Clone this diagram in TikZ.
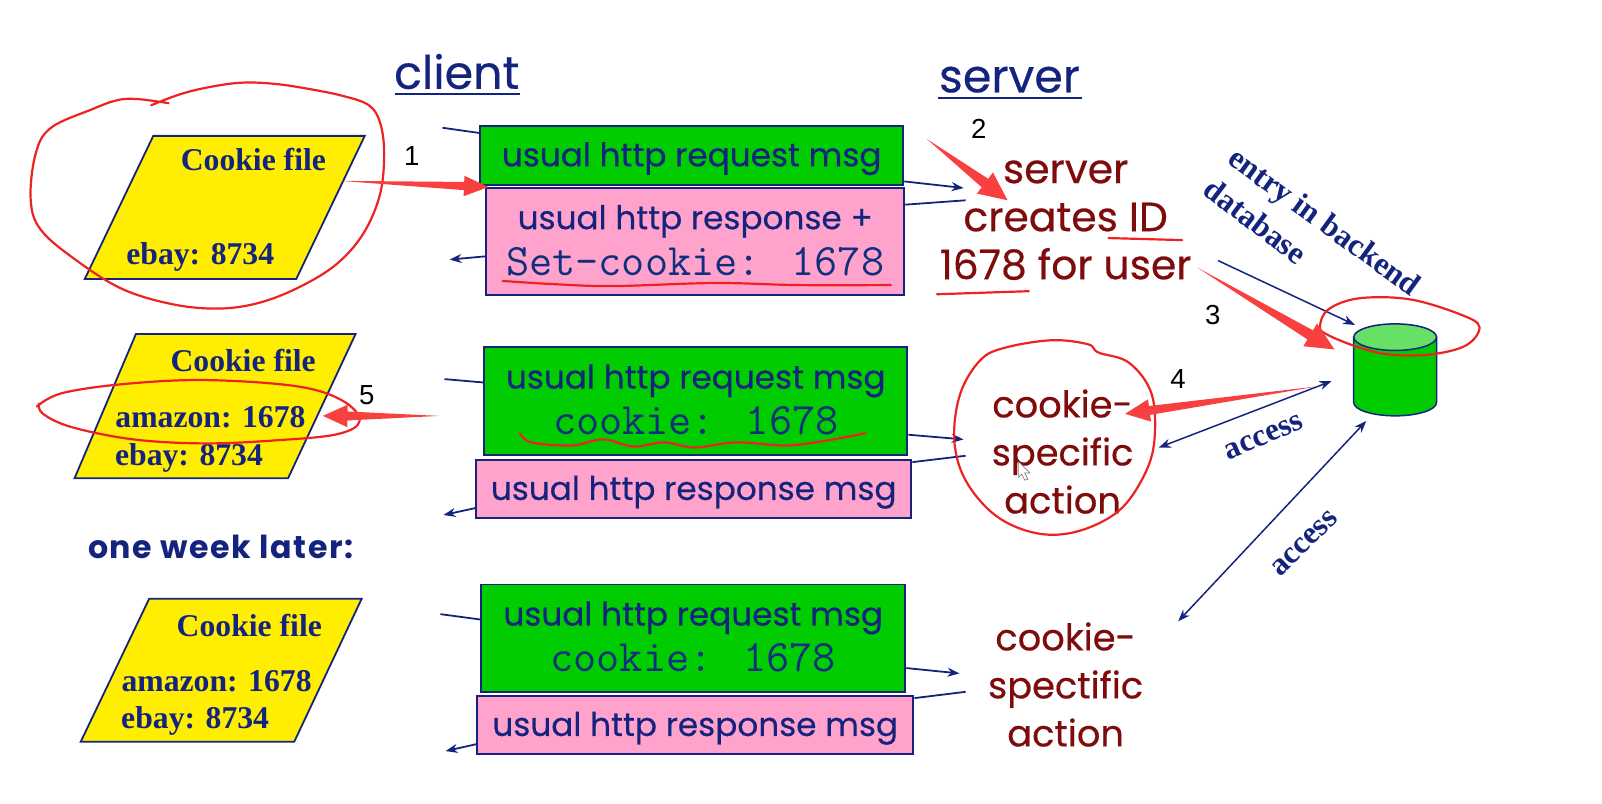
\documentclass[tikz,border=0pt]{standalone}
\usepackage{fontspec}
\setmainfont{Liberation Serif}
\newfontfamily\handfont[FakeBold=0.4]{Poppins}
\newfontfamily\laterfont[LetterSpace=5]{Poppins}
\newfontfamily\numfont{Liberation Sans}
\usetikzlibrary{positioning,calc,shapes.geometric,arrows.meta}
\definecolor{navy}{HTML}{14247E}
\definecolor{monoblue}{HTML}{10307E}
\definecolor{boxgreen}{HTML}{00CC00}
\definecolor{lidgreen}{HTML}{66E066}
\definecolor{boxpink}{HTML}{FFA3CC}
\definecolor{fileyellow}{HTML}{FFEE00}
\definecolor{darkred}{HTML}{7F0C0C}
\definecolor{markred}{HTML}{EE2222}
\definecolor{arrowred}{HTML}{F94040}
\newcommand{\monotext}[1]{{\ttfamily\color{monoblue}\fontsize{44}{43}\selectfont #1}}
\tikzset{
    msgbox/.style={draw=navy, line width=1.8pt, inner sep=0pt, align=center, text=navy,
        font=\handfont\fontsize{32}{43}\selectfont},
    greenbox/.style={msgbox, fill=boxgreen},
    pinkbox/.style={msgbox, fill=boxpink},
    oneline/.style={text depth=2pt},
    twoline/.style={text depth=3pt},
    filetext/.style={text=navy, inner sep=0pt, font=\bfseries\fontsize{31}{32}\selectfont},
    cookiefile/.style={draw=navy, line width=1.8pt, fill=fileyellow},
    servertext/.style={text=darkred, inner sep=0pt, align=center,
        font=\handfont\fontsize{40}{47}\selectfont},
    actiontext/.style={servertext, font=\handfont\fontsize{36}{47}\selectfont},
    title/.style={text=navy, inner sep=2pt, font=\handfont\fontsize{45}{48}\selectfont},
    dbtext/.style={text=navy, inner sep=0pt, font=\bfseries\fontsize{31}{34}\selectfont},
    numtext/.style={text=black, inner sep=0pt, font=\numfont\fontsize{27}{30}\selectfont},
    wire/.style={navy, line width=1.8pt},
    wirearrow/.style={wire, -{Stealth[length=12pt,width=9pt]}},
    dbarrow/.style={navy, line width=1.5pt, -{Stealth[length=12pt,width=9pt]}},
    dbboth/.style={navy, line width=1.5pt, {Stealth[length=12pt,width=9pt]}-{Stealth[length=12pt,width=9pt]}},
    redline/.style={markred, line width=2.2pt, line cap=round, line join=round},
}
\newcommand{\redarrow}[4]{
    \coordinate (hb) at ($(#2)!#3!(#1)$);
    \fill[arrowred] (#1) -- ($(hb)!0.4*#4!90:(#2)$) -- ($(hb)!#4!90:(#2)$) -- (#2)
        -- ($(hb)!#4!-90:(#2)$) -- ($(hb)!0.4*#4!-90:(#2)$) -- cycle;
}
\begin{document}
\begin{tikzpicture}[x=1pt,y=-1pt,scale=1.0217,transform shape]
    \useasboundingbox (0,0) rectangle (1568,786.9);

    \filldraw[cookiefile] (150,133) -- (357,133) -- (290,273) -- (83,273) -- cycle;
    \filldraw[cookiefile] (133,327) -- (348,327) -- (282,468) -- (73,468) -- cycle;
    \filldraw[cookiefile] (146,586) -- (354,586) -- (288,726) -- (79,726) -- cycle;
    \node[filetext] at (248,156)(cookiea) {Cookie file};
    \node[filetext] at (196,251)(ebaya) {ebay: 8734};
    \node[filetext] at (238,353)(cookieb) {Cookie file};
    \node[filetext] at (206,408)(amazonb) {amazon: 1678};
    \node[filetext] at (185,448)(ebayb) {ebay: 8734};
    \node[filetext] at (244,612)(cookiec) {Cookie file};
    \node[filetext] at (212,667)(amazonc) {amazon: 1678};
    \node[filetext] at (191,706)(ebayc) {ebay: 8734};
    \node[text=navy, inner sep=0pt, font=\laterfont\bfseries\fontsize{31}{36}\selectfont] at (216,535)(later) {one week later:};

    \node[title] at (447,70)(client) {client};
    \node[title] at (988,78)(server) {server};
    \draw[wire] (387,92) coordinate (ca) -- (509,92) coordinate (cb);
    \draw[wire] (918,96) coordinate (sa) -- (1059,96) coordinate (sb);

    \node[greenbox, oneline, minimum width=414, minimum height=58] at (677,152)(reqa) {usual http request msg};
    \node[pinkbox, twoline, minimum width=409, minimum height=105] at (680.5,236.5)(respa) {usual http response +\\[2pt]\monotext{Set-cookie: 1678}};
    \node[greenbox, twoline, minimum width=414, minimum height=105] at (681,392.5)(reqb) {usual http request msg\\[2pt]\monotext{cookie: 1678}};
    \node[pinkbox, oneline, minimum width=426, minimum height=57] at (679,478.5)(respb) {usual http response msg};
    \node[greenbox, twoline, minimum width=415, minimum height=105] at (678.5,624.5)(reqc) {usual http request msg\\[2pt]\monotext{cookie: 1678}};
    \node[pinkbox, oneline, minimum width=427, minimum height=57] at (680.5,709.5)(respc) {usual http response msg};

    \coordinate (ina) at (433,125);
    \coordinate (outa) at (943,184);
    \coordinate (backa) at (945,196);
    \coordinate (enda) at (440,254);
    \coordinate (inb) at (435,371);
    \coordinate (outb) at (943,430);
    \coordinate (backb) at (945,446);
    \coordinate (endb) at (434,504);
    \coordinate (inc) at (431,601);
    \coordinate (outc) at (939,659);
    \coordinate (backc) at (945,677);
    \coordinate (endc) at (436,735);

    \draw[wire] (ina) -- (reqa.174);
    \draw[wirearrow] (reqa.-7) -- (outa);
    \draw[wire] (respa.10) -- (backa);
    \draw[wirearrow] (respa.184) -- (enda);
    \draw[wire] (inb) -- (reqb.175);
    \draw[wirearrow] (reqb.-9) -- (outb);
    \draw[wire] (respb.7) -- (backb);
    \draw[wirearrow] (respb.185.5) -- (endb);
    \draw[wire] (inc) -- (reqc.175);
    \draw[wirearrow] (reqc.-8) -- (outc);
    \draw[wire] (respc.7) -- (backc);
    \draw[wirearrow] (respc.185) -- (endc);

    \node[servertext] at (1043,215.5)(creates) {server\\creates ID\\1678 for user};
    \node[actiontext] at (1040,442)(actiona) {cookie-\\specific\\action};
    \node[actiontext] at (1043,670)(actionb) {cookie-\\spectific\\action};

    \filldraw[draw=navy, line width=1.5pt, fill=boxgreen] (1325,330) -- (1325,394) arc[x radius=40.5pt, y radius=13pt, start angle=180, end angle=360] -- (1406,330) -- cycle;
    \node[ellipse, draw=navy, line width=1.5pt, fill=lidgreen, minimum width=81, minimum height=26, inner sep=0pt] at (1365.5,330)(dblid) {};

    \node[dbtext, rotate=-36] at (1295,219)(entry) {entry in backend};
    \node[dbtext, rotate=-37] at (1229,216.5)(database) {database};
    \node[dbtext, rotate=23] at (1237,428)(accessa) {access};
    \node[dbtext, rotate=44] at (1277,532)(accessb) {access};

    \coordinate (entrystart) at (1192,255);
    \coordinate (entryend) at (1326,318);
    \coordinate (accessaleft) at (1134,438);
    \coordinate (accessaright) at (1303,373);
    \coordinate (accessbleft) at (1153,608);
    \coordinate (accessbright) at (1337,412);
    \draw[dbarrow] (entrystart) -- (entryend);
    \draw[dbboth] (accessaleft) -- (accessaright);
    \draw[dbboth] (accessbleft) -- (accessbright);

    \draw[redline] plot[smooth, tension=0.6] coordinates {(148,103) (174,93) (201,86) (235,81) (268,82) (302,87) (336,94) (361,103) (372,120) (376,150) (372,190) (356,228) (330,258) (295,280) (255,296) (215,302) (170,298) (120,283) (75,255) (40,225) (30,195) (35,150) (50,125) (90,107) (115,98) (135,97) (165,101)};
    \draw[redline] plot[smooth, tension=0.6] coordinates {(492,275) (540,278) (600,280) (700,277) (780,279) (872,279)};
    \draw[redline] (1085,233) -- (1157,235);
    \draw[redline] (917,288) -- (1007,285);
    \draw[redline] plot[smooth, tension=0.6] coordinates {(509,424) (520,433) (560,436) (590,430) (620,437) (650,433) (680,438) (720,433) (770,436) (810,431) (847,424)};
    \draw[redline] plot[smooth, tension=0.6] coordinates {(36,398) (60,385) (120,376) (200,372) (290,378) (335,392) (352,412) (330,425) (270,431) (200,434) (130,430) (70,418) (42,405) (38,395)};
    \draw[redline] plot[smooth cycle, tension=0.6] coordinates {(960,352) (940,385) (934,430) (945,470) (975,505) (1015,522) (1055,520) (1095,500) (1120,465) (1130,430) (1127,385) (1105,355) (1075,345) (1065,337) (1030,333) (985,340)};
    \draw[redline] plot[smooth cycle, tension=0.6] coordinates {(1292,320) (1300,303) (1330,292) (1380,293) (1430,308) (1448,320) (1435,338) (1400,347) (1360,347) (1330,340) (1300,328)};

    \coordinate (reda) at (333,177);
    \coordinate (redahead) at (478,183);
    \coordinate (redb) at (907,136);
    \coordinate (redbhead) at (986,196);
    \coordinate (redc) at (1172,262);
    \coordinate (redchead) at (1306,342);
    \coordinate (redd) at (1290,378);
    \coordinate (reddhead) at (1101,405);
    \coordinate (rede) at (430,407);
    \coordinate (redehead) at (316,407);
    \redarrow{reda}{redahead}{24pt}{10pt}
    \redarrow{redb}{redbhead}{28pt}{13pt}
    \redarrow{redc}{redchead}{28pt}{13pt}
    \redarrow{redd}{reddhead}{24pt}{11pt}
    \redarrow{rede}{redehead}{24pt}{11pt}

    \node[numtext] at (403,153)(numa) {1};
    \node[numtext] at (958,126)(numb) {2};
    \node[numtext] at (1187,308)(numc) {3};
    \node[numtext] at (1153,371)(numd) {4};
    \node[numtext] at (359,387)(nume) {5};

    \filldraw[fill=white, draw=gray, line width=0.7pt] (997,452) -- (997,467) -- (1000,464) -- (1003,470) -- (1006,469) -- (1003,463) -- (1008,463) -- cycle;
\end{tikzpicture}
\end{document}
